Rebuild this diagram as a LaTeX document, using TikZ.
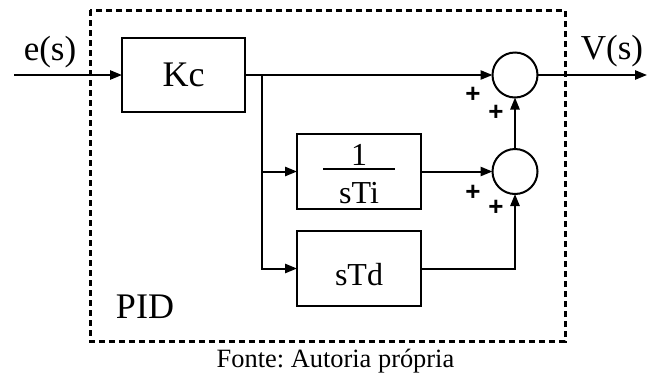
\documentclass[tikz,border=0pt]{standalone}
\usepackage{fontspec}
\setmainfont{Liberation Serif}
\newfontfamily\signfont{Liberation Sans}
\usepackage{tikz}
\usetikzlibrary{arrows.meta,positioning}
\frenchspacing
\tikzset{
    blockbox/.style={draw,line width=1pt,minimum width=61.5pt,minimum height=37pt,
      inner sep=2pt,outer sep=0pt,align=center,font=\fontsize{16}{18}\selectfont},
    sumnode/.style={draw,circle,line width=1pt,minimum size=22.5pt,
      inner sep=0pt,outer sep=0pt},
    sigline/.style={-{Triangle[length=6pt,width=4.6pt]},line width=1pt},
    pidframe/.style={line width=1.5pt,dash pattern=on 3.2pt off 1.8pt},
    signlabel/.style={font=\signfont\bfseries\fontsize{13}{13}\selectfont,inner sep=0pt},
    textlabel/.style={font=\fontsize{17.5}{19}\selectfont,inner sep=0pt,anchor=base}
}
\begin{document}
\begin{tikzpicture}[x=0.5pt,y=-0.5pt]
  \useasboundingbox (0,0) rectangle (648,376);
  \draw[pidframe] (90,10) rectangle (565,341);
  % blocks
  \node[blockbox,font=\fontsize{18}{20}\selectfont] (kc) at (183.5,75) {Kc};
  \node[blockbox,below right=11pt and 26pt of kc,minimum width=62pt,minimum height=37.5pt,
    inner ysep=0pt] (ti) {\renewcommand{\arraystretch}{0}\setlength{\arrayrulewidth}{0.8pt}%
    \begin{tabular}{@{}c@{}}
      \fontsize{16}{16}\selectfont\rule[-1.5pt]{0pt}{14.8pt}1\\\hline
      \rule{0pt}{17pt}\makebox[36pt]{sTi}
    \end{tabular}};
  \node[blockbox,below=11pt of ti,minimum width=62pt,minimum height=37.5pt,
    text height=16.8pt,text depth=0pt] (td) {sTd};
  % summing junctions
  \node[sumnode,right=123.75pt of kc] (s1) {};
  \node[sumnode,right=35.75pt of ti] (s2) {};
  \coordinate (in) at (14,75);
  \coordinate (out) at (647,75);
  \coordinate[right=8.5pt of kc] (br);
  % signals
  \draw[sigline] (in) -- (kc);
  \draw[sigline] (kc) -- (s1);
  \draw[sigline] (br) |- (ti);
  \draw[sigline] (br) |- (td);
  \draw[sigline] (ti) -- (s2);
  \draw[sigline] (td) -| (s2);
  \draw[sigline] (s2) -- (s1);
  \draw[sigline] (s1) -- (out);
  % signs
  \node[signlabel] (p1) at (473,95) {+};
  \node[signlabel] (p2) at (496,113) {+};
  \node[signlabel] (p3) at (473,193) {+};
  \node[signlabel] (p4) at (496,208) {+};
  % labels
  \node[textlabel] (esig) at (50,60) {e(s)};
  \node[textlabel] (vsig) at (612,59.5) {V(s)};
  \node[textlabel,font=\fontsize{18}{20}\selectfont] (pid) at (145,318) {PID};
  \node[textlabel,font=\fontsize{13.2}{15}\selectfont] (src) at (335.5,367) {Fonte: Autoria própria};
\end{tikzpicture}
\end{document}
